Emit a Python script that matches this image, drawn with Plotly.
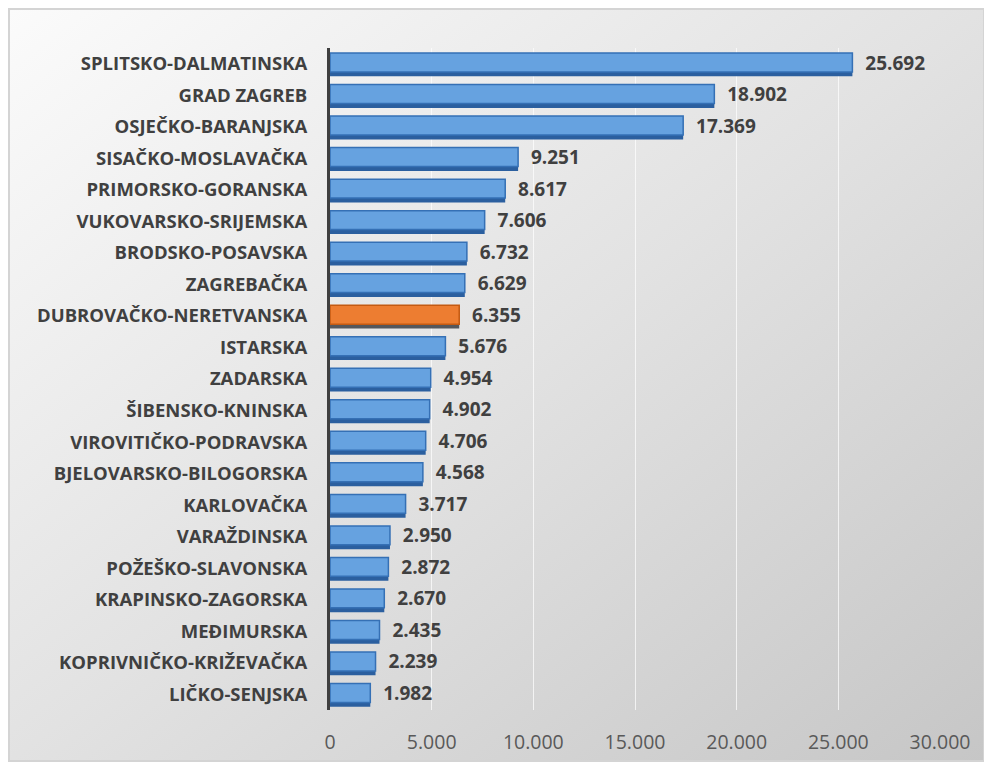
import base64
import plotly.graph_objects as go

categories = [
    "SPLITSKO-DALMATINSKA", "GRAD ZAGREB", "OSJEČKO-BARANJSKA", "SISAČKO-MOSLAVAČKA",
    "PRIMORSKO-GORANSKA", "VUKOVARSKO-SRIJEMSKA", "BRODSKO-POSAVSKA", "ZAGREBAČKA",
    "DUBROVAČKO-NERETVANSKA", "ISTARSKA", "ZADARSKA", "ŠIBENSKO-KNINSKA",
    "VIROVITIČKO-PODRAVSKA", "BJELOVARSKO-BILOGORSKA", "KARLOVAČKA", "VARAŽDINSKA",
    "POŽEŠKO-SLAVONSKA", "KRAPINSKO-ZAGORSKA", "MEĐIMURSKA", "KOPRIVNIČKO-KRIŽEVAČKA",
    "LIČKO-SENJSKA",
]
values = [25692, 18902, 17369, 9251, 8617, 7606, 6732, 6629, 6355, 5676, 4954,
          4902, 4706, 4568, 3717, 2950, 2872, 2670, 2435, 2239, 1982]
highlight = "DUBROVAČKO-NERETVANSKA"
tick_vals = [0, 5000, 10000, 15000, 20000, 25000, 30000]

colors = ["#ed7d31" if c == highlight else "#66a2e0" for c in categories]
line_colors = ["#c45a12" if c == highlight else "#3570b5" for c in categories]
shadow_colors = ["#55575c" if c == highlight else "#2b5f9f" for c in categories]

# figure is placed at (8, 8) on the page by the default body margin
W, H = 984, 763
L, R, T, B = 322, 52, 40, 61
pw, ph = W - L - R, H - T - B
FW, FH = 977, 754  # chart frame size

svg = f"""<svg xmlns='http://www.w3.org/2000/svg' width='{FW}' height='{FH}'>
<defs><linearGradient id='g' x1='0' y1='0' x2='1' y2='1'>
<stop offset='0' stop-color='#fbfbfb'/><stop offset='0.5' stop-color='#e2e2e2'/>
<stop offset='1' stop-color='#c6c6c6'/></linearGradient></defs>
<rect x='1' y='1' width='{FW-2}' height='{FH-2}' fill='url(#g)' stroke='#d4d4d4' stroke-width='2'/>
</svg>"""
src = "data:image/svg+xml;base64," + base64.b64encode(svg.encode()).decode()

fig = go.Figure()
# depth (3D edge) of the bars
fig.add_trace(go.Bar(
    x=values, y=categories, orientation="h",
    marker=dict(color=shadow_colors, line=dict(width=0)),
    width=0.64, offset=-0.40, hoverinfo="skip",
))
fig.add_trace(go.Bar(
    x=values, y=categories, orientation="h",
    marker=dict(color=colors, line=dict(color=line_colors, width=1.5)),
    width=0.6, offset=-0.26,
    text=values, texttemplate="  %{x:,}", textposition="outside",
    constraintext="none",
    textfont=dict(family="Open Sans", size=19, color="#404040", weight="bold"),
    cliponaxis=False,
))

fx0 = -L / pw
fx1 = (FW - L) / pw
fy1 = (H - B) / ph
fy0 = (H - B - FH) / ph

fig.update_layout(
    width=W, height=H,
    margin=dict(l=L, r=R, t=T, b=B),
    paper_bgcolor="white", plot_bgcolor="rgba(0,0,0,0)",
    separators=",.",
    showlegend=False,
    barmode="overlay",
    images=[dict(source=src, xref="paper", yref="paper", x=fx0, y=fy1,
                 sizex=fx1 - fx0, sizey=fy1 - fy0, sizing="stretch",
                 xanchor="left", yanchor="top", layer="below")],
    xaxis=dict(range=[0, 30000], tickvals=tick_vals, tickformat=",",
               showgrid=True, gridcolor="rgba(255,255,255,0.7)", gridwidth=1,
               zeroline=False, showline=False,
               tickfont=dict(family="Open Sans", size=19.5, color="#595959"),
               ticklabelstandoff=18),
    yaxis=dict(categoryorder="array", categoryarray=categories[::-1],
               showline=True, linecolor="#3f3f3f", linewidth=3,
               tickfont=dict(family="Open Sans", size=18.5, color="#404040", weight="bold"),
               ticklabelstandoff=16, showgrid=False),
)

fig.write_html("out.html")
